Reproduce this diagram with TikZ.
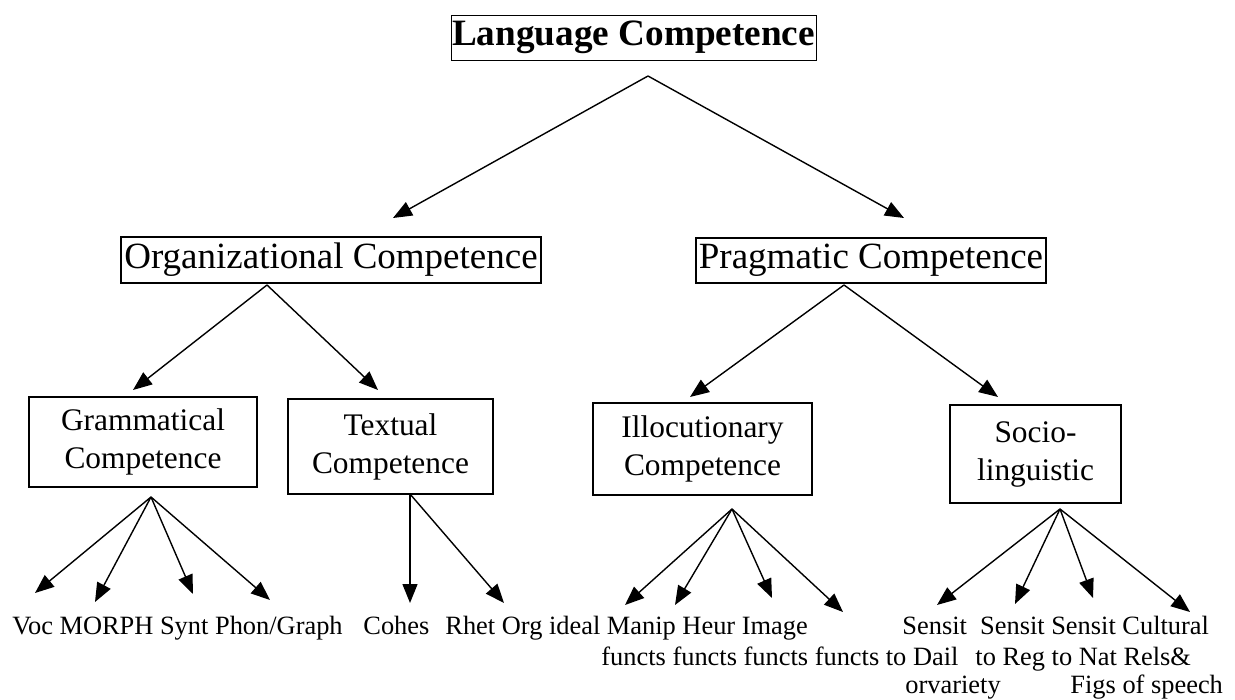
\documentclass[tikz,border=0pt]{standalone}
\usepackage{fontspec}
\setmainfont{Liberation Serif}
\usetikzlibrary{arrows.meta}

\tikzset{
	compbox/.style={draw,line width=0.6pt,align=center,inner sep=0pt},
	subarrow/.style={line width=0.7pt,-{Triangle[length=9.5pt,width=7.5pt]}},
	leaf/.style={anchor=base west,inner sep=0pt,font=\fontsize{13.2}{15}\selectfont},
}

\begin{document}
\begin{tikzpicture}[x=0.5pt,y=-0.5pt]

			\useasboundingbox (0,0) rectangle (1235,700);

			% boxes
			\node[compbox,line width=0.45pt,minimum width=182.5pt,minimum height=22.5pt,font=\bfseries\fontsize{18.6}{22}\selectfont] (lang) at (633.5,37.5) {Language Competence};
			\node[compbox,minimum width=210pt,minimum height=23pt,font=\fontsize{18.5}{22}\selectfont] (org) at (331,260) {Organizational Competence};
			\node[compbox,minimum width=175pt,minimum height=22.5pt,font=\fontsize{18.5}{22}\selectfont] (prag) at (871,260.5) {Pragmatic Competence};
			\node[compbox,minimum width=114pt,minimum height=45pt,font=\fontsize{15.7}{19}\selectfont] (gram) at (143,442) {Grammatical\\Competence};
			\node[compbox,minimum width=102.5pt,minimum height=47.5pt,font=\fontsize{15.7}{19}\selectfont] (text) at (390.5,446.5) {Textual\\Competence};
			\node[compbox,minimum width=109.5pt,minimum height=46pt,font=\fontsize{15.7}{19}\selectfont] (illoc) at (702.5,449) {Illocutionary\\Competence};
			\node[compbox,minimum width=85.5pt,minimum height=49pt,font=\fontsize{15.7}{19}\selectfont] (socio) at (1035.5,454) {Socio-\\linguistic};

			% forks and arrow ends
			\coordinate (lf) at (648, 76);
			\coordinate (o) at (393, 218);
			\coordinate (p) at (904, 218);
			\coordinate (of) at (267, 285);
			\coordinate (g) at (133, 390);
			\coordinate (t) at (378, 390);
			\coordinate (pf) at (844, 285);
			\coordinate (i) at (690, 397);
			\coordinate (s) at (998, 397);
			\coordinate (gf) at (151, 497);
			\coordinate (tf) at (410, 494);
			\coordinate (if) at (732, 509);
			\coordinate (sf) at (1060, 509);

			\draw[subarrow] (lf) -- (o);
			\draw[subarrow] (lf) -- (p);
			\draw[subarrow] (of) -- (g);
			\draw[subarrow] (of) -- (t);
			\draw[subarrow] (pf) -- (i);
			\draw[subarrow] (pf) -- (s);

			\foreach \x/\y in {35/593, 95/602, 193/594, 270/600}
				\draw[subarrow] (gf) -- (\x,\y);
			\foreach \x/\y in {410/603, 504/603}
				\draw[subarrow] (tf) -- (\x,\y);
			\foreach \x/\y in {625/605, 675/605, 772/598, 843/612}
				\draw[subarrow] (if) -- (\x,\y);
			\foreach \x/\y in {937/605, 1015/604, 1093/598, 1190/612}
				\draw[subarrow] (sf) -- (\x,\y);

			% labels
			\node[leaf] (gl) at (12, 634) {Voc MORPH Synt Phon/Graph};
			\node[leaf] (tl1) at (363, 634) {Cohes};
			\node[leaf] (tl2) at (445, 634) {Rhet Org ideal Manip Heur Image};
			\node[leaf] (il) at (601, 665) {functs functs functs functs to Dail};
			\node[leaf] (sl1) at (902, 634) {Sensit\ \ Sensit Sensit Cultural};
			\node[leaf] (sl2) at (975, 665) {to Reg to Nat Rels\&};
			\node[leaf] (sl3) at (905, 693) {orvariety};
			\node[leaf] (sl4) at (1070, 693) {Figs of speech};

		\end{tikzpicture}
\end{document}
